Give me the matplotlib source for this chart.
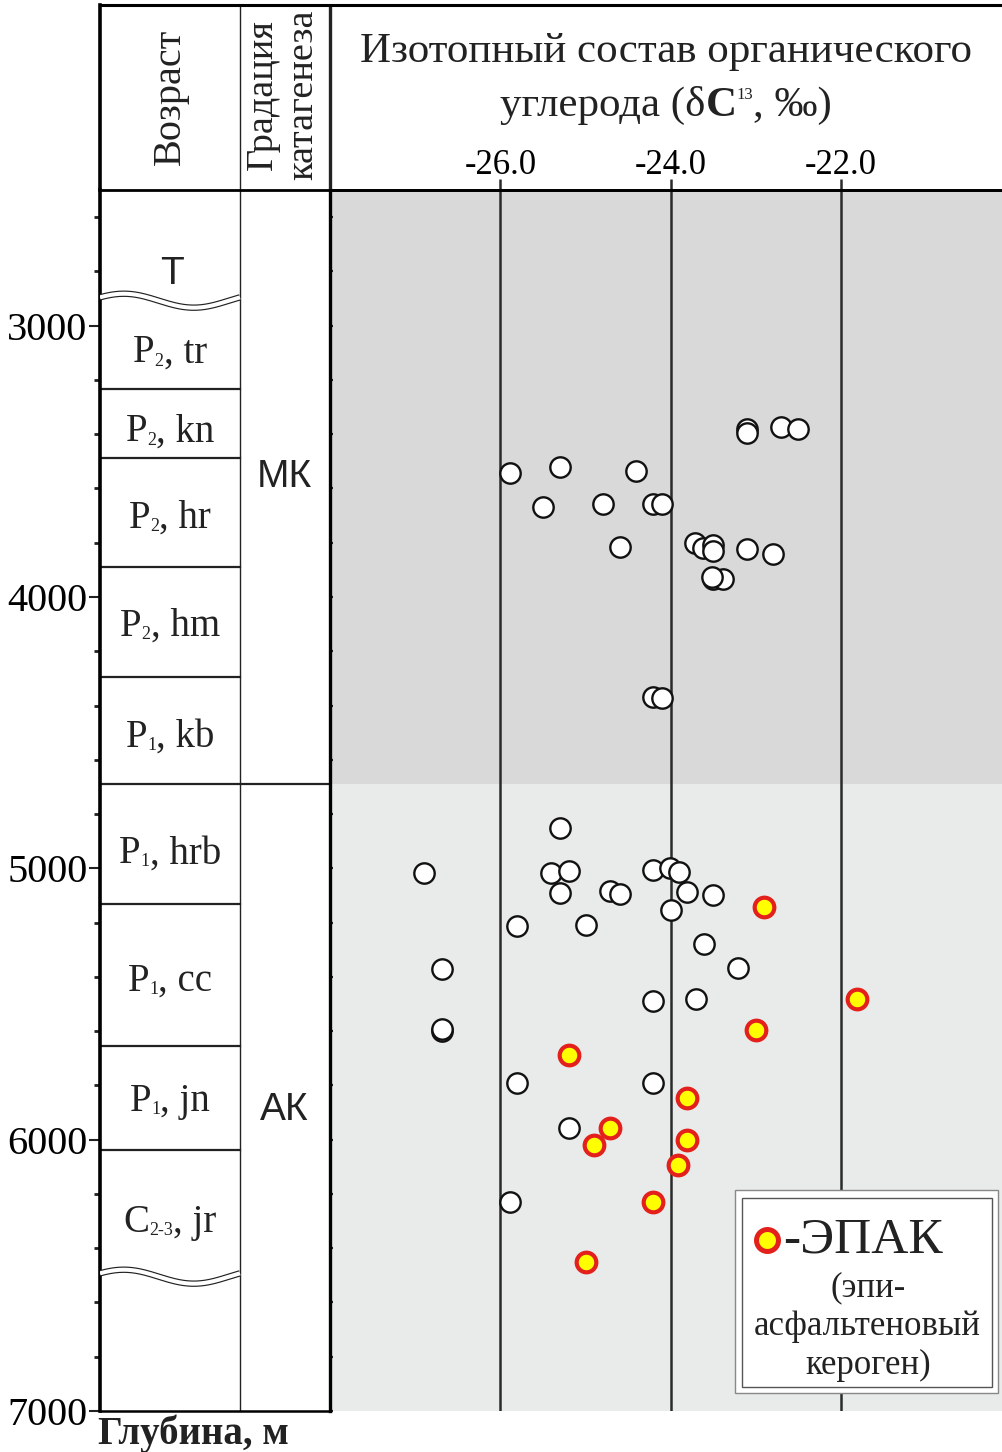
import numpy as np
import matplotlib
matplotlib.use('Agg')
import matplotlib.pyplot as plt
from matplotlib.patches import Rectangle
from matplotlib.ticker import FixedLocator, MultipleLocator
from matplotlib.transforms import offset_copy

plt.rcParams['font.family'] = ['Liberation Serif', 'DejaVu Serif']

# ---------------- data ----------------
white_d13c = [-23.10, -23.10, -22.71, -22.51,
              -25.89, -25.30, -24.41,
              -25.50, -24.79, -24.21, -24.10,
              -24.60, -23.71, -23.62, -23.50, -23.50, -23.10, -22.80,
              -23.50, -23.39, -23.52,
              -24.21, -24.10,
              -25.30,
              -26.90, -25.40, -25.19, -25.30,
              -24.71, -24.60,
              -24.21, -24.01, -23.90,
              -23.81, -23.50, -24.00,
              -25.80, -24.99,
              -23.61, -23.21, -26.69,
              -24.21, -23.70,
              -26.69, -26.69,
              -25.80, -24.21,
              -25.20,
              -25.89]
white_depth = [3379, 3397, 3375, 3379,
               3544, 3522, 3537,
               3669, 3658, 3658, 3658,
               3816, 3801, 3820, 3809, 3831, 3824, 3842,
               3934, 3934, 3926,
               4368, 4372,
               4853,
               5018, 5018, 5011, 5092,
               5085, 5096,
               5007, 5000, 5015,
               5088, 5099, 5154,
               5213, 5210,
               5279, 5368, 5371,
               5489, 5482,
               5599, 5592,
               5790, 5790,
               5956,
               6228]

epak_d13c = [-22.90, -21.81, -23.00, -25.20, -23.81, -24.71, -24.90, -23.81, -23.91, -24.21, -25.00]
epak_depth = [5143, 5482, 5596, 5688, 5846, 5956, 6018, 6000, 6092, 6228, 6452]

age_top_label = 'T'
age_top_label_depth = 2809
age_system = ['P', 'P', 'P', 'P', 'P', 'P', 'P', 'P', 'C']
age_series = ['2', '2', '2', '2', '1', '1', '1', '1', '2-3']
age_suite = ['tr', 'kn', 'hr', 'hm', 'kb', 'hrb', 'cc', 'jn', 'jr']
age_label_depths = [3088, 3379, 3699, 4096, 4504, 4934, 5404, 5846, 6294]
age_boundaries = [3235, 3489, 3890, 4294, 5132, 5654, 6037]
unconformity_depths = [2908, 6505]

catagenesis_labels = ['МК', 'АК']
catagenesis_label_depths = [3559, 5890]
catagenesis_boundary = 4691

x_ticks = [-26.0, -24.0, -22.0]
x_ticklabels = ['-26.0', '-24.0', '-22.0']
depth_ticks = [3000, 4000, 5000, 6000, 7000]
depth_ticklabels = ['3000', '4000', '5000', '6000', '7000']

# ---------------- layout ----------------
W, H = 1003, 1452
fig = plt.figure(figsize=(W / 100, H / 100), dpi=100)
renderer = fig.canvas.get_renderer()
INK = '#222222'
serif = ['Liberation Serif']


def fx(px):
    return px / W


def fy(py):
    return 1 - py / H


def compose(axis, x, y, pieces):
    """pieces: (text, fontsize, weight, dy_px, dx_before_px) drawn side by side, centred on x."""
    base = axis.transData
    texts, widths = [], []
    for s, fs, wt, dy, dxb in pieces:
        t = axis.text(x, y, s, fontsize=fs, fontweight=wt, ha='left', va='baseline',
                      color=INK, family=serif)
        widths.append(t.get_window_extent(renderer).width)
        texts.append(t)
    total = sum(widths) + sum(p[4] for p in pieces[1:])
    off = -total / 2
    for i, (t, w, p) in enumerate(zip(texts, widths, pieces)):
        if i > 0:
            off += p[4]
        t.set_transform(offset_copy(base, fig=fig, x=off, y=p[3], units='dots'))
        off += w


DEPTH_MIN, DEPTH_MAX = 2500, 7000

# data panel
ax = fig.add_axes([fx(330), fy(1411), fx(1003) - fx(330), fy(190) - fy(1411)])
ax.set_xlim(-28.0, -20.1)
ax.set_ylim(DEPTH_MAX, DEPTH_MIN)
ax.axhspan(DEPTH_MIN, catagenesis_boundary, color='#d9d9d9', lw=0, zorder=0)
ax.axhspan(catagenesis_boundary, DEPTH_MAX, color='#e9ebeb', lw=0, zorder=0)
for xv in x_ticks:
    ax.axvline(xv, color='#2a2a2a', lw=1.8, zorder=1)
ax.xaxis.tick_top()
ax.set_xticks(x_ticks)
ax.set_xticklabels(x_ticklabels)
ax.tick_params(axis='x', direction='out', length=8, width=1.8, color='#2a2a2a',
               labelsize=25, pad=-2)
ax.yaxis.set_major_locator(FixedLocator(depth_ticks))
ax.yaxis.set_minor_locator(MultipleLocator(200))
ax.tick_params(axis='y', which='both', left=True, labelleft=False, direction='inout',
               length=5, width=1.6, color=INK)
for s in ['left', 'right', 'bottom']:
    ax.spines[s].set_visible(False)
ax.spines['top'].set_linewidth(2)

ax.scatter(white_d13c, white_depth, s=215, facecolor='white', edgecolor='#111111',
           linewidth=1.7, zorder=3, clip_on=False)
ax.scatter(epak_d13c, epak_depth, s=200, facecolor='#ffff00', edgecolor='#e3201b',
           linewidth=3.0, zorder=4, clip_on=False)

# legend box
ax.add_patch(Rectangle((0.602, 0.0147), 0.3906, 0.1663, transform=ax.transAxes,
                       facecolor='white', edgecolor='#888888', lw=1.0, zorder=5))
ax.add_patch(Rectangle((0.612, 0.0197), 0.3717, 0.1547, transform=ax.transAxes,
                       facecolor='none', edgecolor='#555555', lw=1.0, zorder=6))
ax.scatter([0.6493], [0.140], s=250, facecolor='#ffff00', edgecolor='#e3201b',
           linewidth=3.6, transform=ax.transAxes, zorder=7, clip_on=False)
ax.text(0.673, 0.140, '-ЭПАК', transform=ax.transAxes, fontsize=37, ha='left',
        va='center', color=INK, zorder=7)
for txt, yy in [('(эпи-', 0.1007), ('асфальтеновый', 0.0688), ('кероген)', 0.0369)]:
    ax.text(0.799, yy, txt, transform=ax.transAxes, fontsize=25, ha='center',
            va='center', color=INK, zorder=7)

# depth / age / catagenesis columns
axd = fig.add_axes([fx(100), fy(1411), fx(330) - fx(100), fy(190) - fy(1411)])
axd.set_xlim(0, 230)
axd.set_ylim(DEPTH_MAX, DEPTH_MIN)
axd.set_xticks([])
axd.yaxis.set_major_locator(FixedLocator(depth_ticks))
axd.set_yticklabels(depth_ticklabels)
axd.yaxis.set_minor_locator(MultipleLocator(200))
axd.tick_params(axis='y', which='major', direction='out', length=8, width=1.5,
                labelsize=29, pad=1, color=INK)
axd.tick_params(axis='y', which='minor', direction='out', length=4, width=2.0,
                color=INK)
axd.spines['top'].set_visible(False)
axd.spines['left'].set_linewidth(2.6)
axd.spines['right'].set_linewidth(2.4)
axd.spines['bottom'].set_linewidth(1.8)
axd.axvline(140, color=INK, lw=1.0)
for d in age_boundaries:
    axd.plot([0, 140], [d, d], color=INK, lw=1.6)
axd.plot([0, 230], [catagenesis_boundary, catagenesis_boundary], color=INK, lw=1.6)

t = np.linspace(0, 1, 200)
wave = -7.0 * np.cos(2 * np.pi * (t - 0.17))
for d in unconformity_depths:
    yy = d + wave / 0.2718
    axd.plot(t * 140, yy, color=INK, lw=4.6, solid_capstyle='butt', zorder=3)
    axd.plot(t * 140, yy, color='white', lw=2.9, solid_capstyle='butt', zorder=4)

axd.text(72, age_top_label_depth, age_top_label, fontsize=28, ha='center', va='center',
         family=['Liberation Sans'], color=INK)
for sysl, ser, suite, d in zip(age_system, age_series, age_suite, age_label_depths):
    compose(axd, 70, d, [(sysl, 28, 'normal', -12.8, 0),
                         (ser, 13, 'normal', -16.0, 0.0),
                         (', ' + suite, 28, 'normal', -12.8, 0.0)])
for lab, d in zip(catagenesis_labels, catagenesis_label_depths):
    axd.text(184, d, lab, fontsize=28, ha='center', va='center',
             family=['Liberation Sans'], color=INK)

# header
hax = fig.add_axes([fx(100), fy(190), fx(1003) - fx(100), fy(5) - fy(190)])
hax.set_xlim(100, 1003)
hax.set_ylim(190, 5)
hax.patch.set_visible(False)
hax.set_xticks([])
hax.set_yticks([])
hax.spines['right'].set_visible(False)
hax.spines['top'].set_linewidth(2.2)
hax.spines['left'].set_linewidth(2.6)
hax.spines['bottom'].set_linewidth(2.0)
hax.plot([240, 240], [5, 190], color=INK, lw=1.0)
hax.plot([330, 330], [5, 190], color=INK, lw=2.4)
hax.text(170, 97, 'Возраст', rotation=90, fontsize=29, ha='center', va='center',
         color=INK)
hax.text(283, 95, 'Градация\nкатагенеза', rotation=90, fontsize=27.5, ha='center',
         va='center', linespacing=1.2, color=INK)
hax.text(666, 52, 'Изотопный состав органического', fontsize=31, ha='center',
         va='center', color=INK)
compose(hax, 666, 116, [('углерода (δ', 31, 'normal', 0, 0),
                        ('C', 31, 'bold', 0, 0.0),
                        ('13', 12, 'normal', 17, 0.0),
                        (', ‰)', 31, 'normal', 0, 0.0)])

fig.text(fx(98), fy(1434), 'Глубина, м', fontsize=28, fontweight='bold',
         ha='left', va='center', color=INK)

fig.savefig('out.png', dpi=100)
